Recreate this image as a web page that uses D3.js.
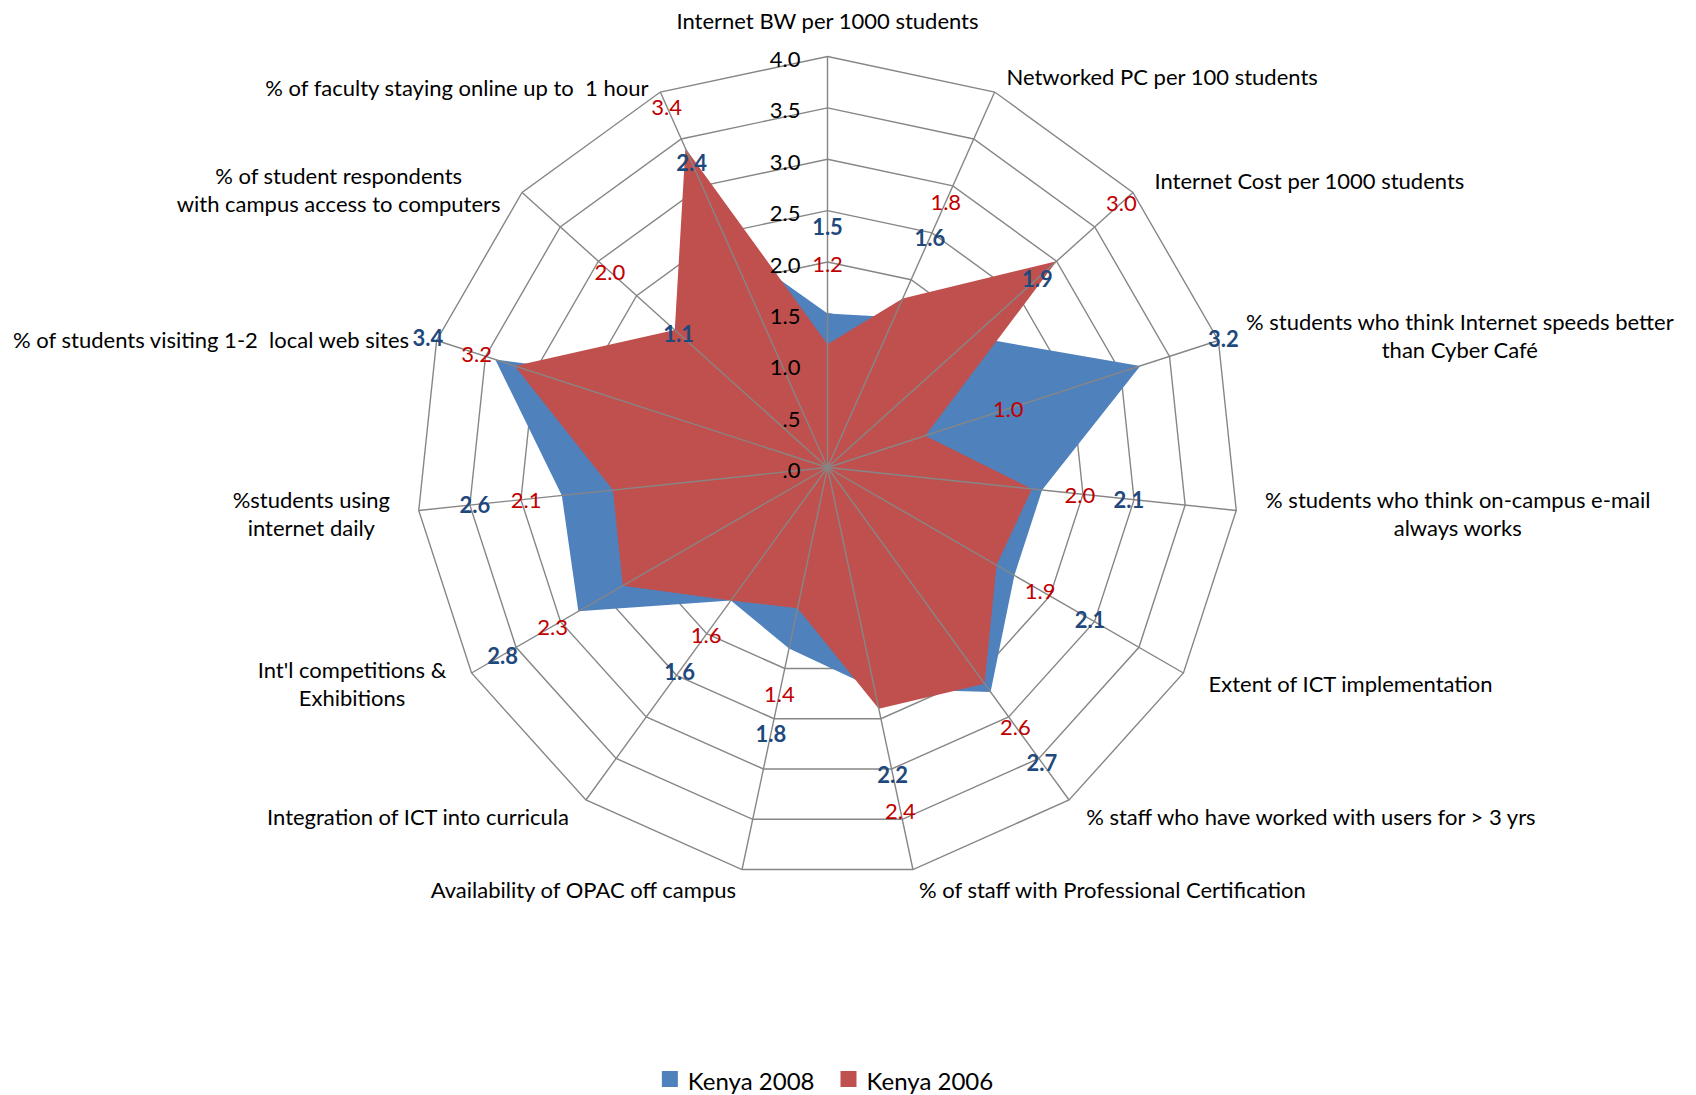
<!DOCTYPE html>
<html>
<head>
<meta charset="utf-8">
<script src="https://cdn.jsdelivr.net/npm/d3@7"></script>
<style>
  body { margin: 0; background: #ffffff; }
  svg text { font-family: Lato, "Open Sans", sans-serif; white-space: pre; }
</style>
</head>
<body>
<div id="chart"></div>
<script>
// Axes of the radar, clockwise from the top ("\n" = line break)
const categories = [
  "Internet BW per 1000 students",
  "Networked PC per 100 students",
  "Internet Cost per 1000 students",
  "% students who think Internet speeds better\nthan Cyber Café",
  "% students who think on-campus e-mail\nalways works",
  "Extent of ICT implementation",
  "% staff who have worked with users for > 3 yrs",
  "% of staff with Professional Certification",
  "Availability of OPAC off campus",
  "Integration of ICT into curricula",
  "Int'l competitions &\nExhibitions",
  "%students using\ninternet daily",
  "% of students visiting 1-2  local web sites",
  "% of student respondents\nwith campus access to computers",
  "% of faculty staying online up to  1 hour"
];

const kenya2008 = [1.5, 1.6, 1.9, 3.2, 2.1, 2.1, 2.7, 2.2, 1.8, 1.6, 2.8, 2.6, 3.4, 1.1, 2.4];
const kenya2006 = [1.2, 1.8, 3.0, 1.0, 2.0, 1.9, 2.6, 2.4, 1.4, 1.6, 2.3, 2.1, 3.2, 2.0, 3.4];

const seriesNames = ["Kenya 2008", "Kenya 2006"];
const tickValues  = [0, 0.5, 1, 1.5, 2, 2.5, 3, 3.5, 4];

const width  = 1696;
const height = 1095;
const cx = 827.5, cy = 467.5;
const radius = 411;

const colors      = {"Kenya 2008": "#4f81bd", "Kenya 2006": "#c0504d"};
const labelColors = {"Kenya 2008": "#1f497d", "Kenya 2006": "#c00000"};
const gridColor   = "#868686";
const labelFont   = 22;

const series = [
  {name: "Kenya 2008", values: kenya2008},
  {name: "Kenya 2006", values: kenya2006}
];

const svg = d3.select("#chart")
  .append("svg")
  .attr("width", width)
  .attr("height", height);

const chart = svg.append("g")
  .attr("transform", `translate(${cx},${cy})`);

const rScale = d3.scaleLinear()
  .domain([0, 4])
  .range([0, radius]);

const aScale = d3.scaleLinear()
  .domain([0, categories.length])
  .range([0, 2 * Math.PI]);

const point = (i, v) => {
  const a = aScale(i);
  return [Math.sin(a) * rScale(v), -Math.cos(a) * rScale(v)];
};

const radial = d3.lineRadial()
  .angle((d, i) => aScale(i))
  .radius(d => rScale(d))
  .curve(d3.curveLinearClosed);

// grid rings
chart.append("g")
  .selectAll("path")
  .data(tickValues.filter(t => t > 0))
  .join("path")
  .attr("d", t => radial(categories.map(() => t)))
  .attr("fill", "none")
  .attr("stroke", gridColor)
  .attr("stroke-width", 1.4);

// series areas (2006 drawn over 2008)
chart.append("g")
  .selectAll("path")
  .data(series)
  .join("path")
  .attr("d", s => radial(s.values))
  .attr("fill", s => colors[s.name])
  .attr("stroke", "none");

// spokes sit on top of the fills
chart.append("g")
  .selectAll("line")
  .data(categories)
  .join("line")
  .attr("x1", 0)
  .attr("y1", 0)
  .attr("x2", (d, i) => point(i, 4)[0])
  .attr("y2", (d, i) => point(i, 4)[1])
  .attr("stroke", gridColor)
  .attr("stroke-width", 1.4);

// value axis labels on the top spoke
const tickFormat = t => d3.format(".1f")(t).replace(/^0/, "");
chart.append("g")
  .selectAll("text")
  .data(tickValues)
  .join("text")
  .attr("x", -27)
  .attr("y", t => -rScale(t) + 2)
  .attr("text-anchor", "end")
  .attr("dominant-baseline", "central")
  .style("font-size", "22px")
  .style("fill", "#000")
  .text(tickFormat);

// category labels around the outside
const catLayer = chart.append("g");
const catBoxes = [];
categories.forEach((c, i) => {
  const lines = c.split("\n");
  const a = aScale(i);
  const dx = Math.sin(a), dy = -Math.cos(a);
  const [vx, vy] = point(i, 4);
  const lineH = 28;

  const t = catLayer.append("text")
    .attr("text-anchor", "middle")
    .attr("dominant-baseline", "central")
    .style("font-size", "22px")
    .style("fill", "#000");
  lines.forEach((l, k) => t.append("tspan").attr("x", 0).attr("dy", k === 0 ? 0 : lineH).text(l));

  let boxW = 0;
  t.selectAll("tspan").each(function() { boxW = Math.max(boxW, this.getComputedTextLength()); });

  let x;
  if (dx > 0.05)       x = vx + 29 * dx + boxW / 2;
  else if (dx < -0.05) x = vx + 29 * dx - boxW / 2;
  else                 x = vx;

  let y;
  if (Math.abs(dx) < 0.05 && dy < 0) y = vy - 37;
  else if (dy < 0) y = vy + (dx > 0 ? 18 : 5) * dy;
  else y = vy + 20 * dy;
  y -= (lines.length - 1) * lineH / 2;

  t.attr("transform", `translate(${x},${y})`);
  const bb = t.node().getBBox();
  catBoxes.push({x0: bb.x + x, x1: bb.x + bb.width + x, y0: bb.y + y, y1: bb.y + bb.height + y});
});

// data labels: just outside the point, nudged along the spoke so they
// do not run into the category text or into each other
const overlaps = (a, b, pad) =>
  a.x0 - pad < b.x1 && b.x0 - pad < a.x1 && a.y0 - pad < b.y1 && b.y0 - pad < a.y1;

const labelBox = (i, r, w) => {
  const [x, y] = point(i, r);
  return {x, y, x0: x - w / 2, x1: x + w / 2, y0: y - labelFont * 0.4, y1: y + labelFont * 0.4};
};

const placed = series.map(() => []);
series.forEach((s, si) => {
  const g = chart.append("g");
  s.values.forEach((v, i) => {
    const t = g.append("text")
      .attr("text-anchor", "middle")
      .attr("dominant-baseline", "central")
      .style("font-size", labelFont + "px")
      .style("font-weight", s.name === "Kenya 2008" ? "bold" : "normal")
      .style("fill", labelColors[s.name])
      .text(d3.format(".1f")(v));
    const w = t.node().getComputedTextLength();

    const blocked = b =>
      catBoxes.some(c => overlaps(b, c, 2)) ||
      placed.slice(0, si).some(p => overlaps(b, p[i], 18));

    let r = v + 0.85;
    let step = -0.02;
    if (si > 0 && series[0].values[i] < v) step = 0.02;
    let box = labelBox(i, r, w);
    let n = 0;
    while (blocked(box) && n < 200) {
      r += step;
      if (r > 4.3) { step = -0.02; r = v + 0.85; }
      box = labelBox(i, r, w);
      n++;
    }
    placed[si][i] = box;
    t.attr("x", box.x).attr("y", box.y);
  });
});

// legend
const legend = svg.append("g");
let lx = 0;
seriesNames.forEach(n => {
  const g = legend.append("g").attr("transform", `translate(${lx},0)`);
  g.append("rect")
    .attr("x", 0).attr("y", -8)
    .attr("width", 16).attr("height", 16)
    .attr("fill", colors[n]);
  const txt = g.append("text")
    .attr("x", 26).attr("y", 1)
    .attr("dominant-baseline", "central")
    .style("font-size", "24px")
    .style("fill", "#000")
    .text(n);
  lx += 26 + txt.node().getComputedTextLength() + 26;
});
lx -= 26;
legend.attr("transform", `translate(${cx - lx / 2},1079)`);
</script>
</body>
</html>
